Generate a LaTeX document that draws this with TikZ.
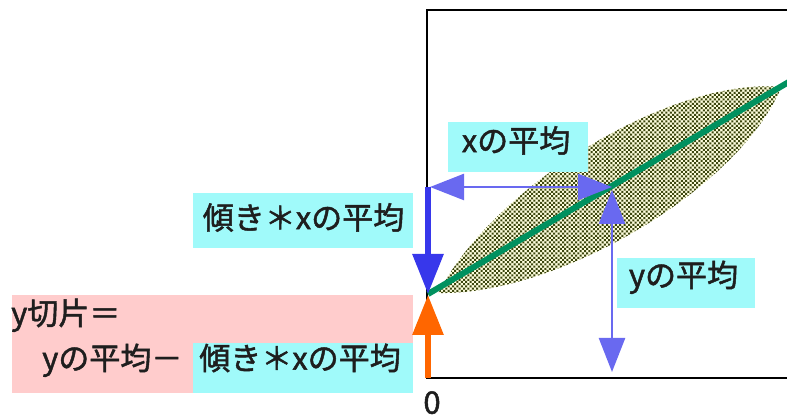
\documentclass[tikz,border=0pt]{standalone}
\usepackage{fontspec}
\setmainfont{Noto Sans CJK JP}[FakeBold=1.5]
\usetikzlibrary{arrows.meta}
\definecolor{cyanbg}{RGB}{160,250,250}
\definecolor{pinkbg}{RGB}{255,204,204}
\definecolor{leafbg}{RGB}{255,255,222}
\definecolor{dotcol}{RGB}{60,70,15}
\definecolor{greenc}{RGB}{0,145,95}
\definecolor{bluec}{RGB}{55,55,235}
\definecolor{thinblue}{RGB}{105,105,240}
\definecolor{orangec}{RGB}{255,102,0}
\definecolor{txt}{RGB}{30,30,30}
\begin{document}
\begin{tikzpicture}[x=1pt,y=1pt,
  lbl/.style={inner sep=0pt, font=\fontsize{31}{37}\selectfont, text=txt, text height=0.8em, text depth=0.06em},
  frameline/.style={line width=2.5pt, black},
  thinarrow/.style={line width=2.5pt, thinblue, {Triangle[length=34pt,width=26pt]}-{Triangle[length=34pt,width=26pt]}},
  thickarrow/.style={line width=6pt, -{Triangle[length=40pt,width=30pt]}}]
\clip (0,0) rectangle (787,417);
% coordinates
\coordinate (O) at (428,123);
\coordinate (Oo) at (428,122);
\coordinate (G2) at (810,347.5);
\coordinate (Xax) at (428,230);
\coordinate (Xl) at (430,230);
\coordinate (M) at (612,230);
\coordinate (Mu) at (612,227);
\coordinate (Md) at (612,45);
\coordinate (Bt) at (428,39);
% frame
\draw[frameline] (810,407) -- (427,407) -- (427,39) -- (810,39);
% leaf (scatter cloud)
\begin{scope}
\clip[shift={(610,227)}, rotate=31]
  (-200,0) .. controls (-100,63) and (110,66) .. (200,0)
  .. controls (110,-66) and (-100,-63) .. (-200,0) -- cycle;
\fill[leafbg] (420,100) rectangle (800,360);
\foreach \i in {430,434.4,...,795} {
  \fill[dotcol] \foreach \j in {112,116.4,...,350} {(\i,\j) rectangle ++(2,2) (\i+2.2,\j+2.2) rectangle ++(2,2)};
}
\end{scope}
% regression line
\draw[line width=6pt, greenc] (O) -- (G2);
% label backgrounds
\fill[pinkbg] (12,24) rectangle (413,122);
\fill[cyanbg] (193,24) rectangle (413,74);
\fill[cyanbg] (193,169) rectangle (413,224);
\fill[cyanbg] (448,245) rectangle (588,295);
\fill[cyanbg] (617,109) rectangle (755,159);
% arrows
\draw[thinarrow] (Xl) -- (M);
\draw[thinarrow] (Mu) -- (Md);
\draw[thickarrow, bluec] (Xax) -- (O);
\draw[thickarrow, orangec] (Bt) -- (Oo);
% texts
\node[lbl] (xmt) at (516,268.5) {xの平均};
\node[lbl] (slt) at (303.5,191.5) {傾き＊xの平均};
\node[lbl] (ymt) at (683.5,134) {yの平均};
\node[lbl, anchor=west] (yint) at (11,96) {y切片＝};
\node[lbl, anchor=west] (ydif) at (42,51) {yの平均－};
\node[lbl] (slt2) at (300,51) {傾き＊xの平均};
\node[lbl] (zero) at (432,7) {0};
\end{tikzpicture}
\end{document}
